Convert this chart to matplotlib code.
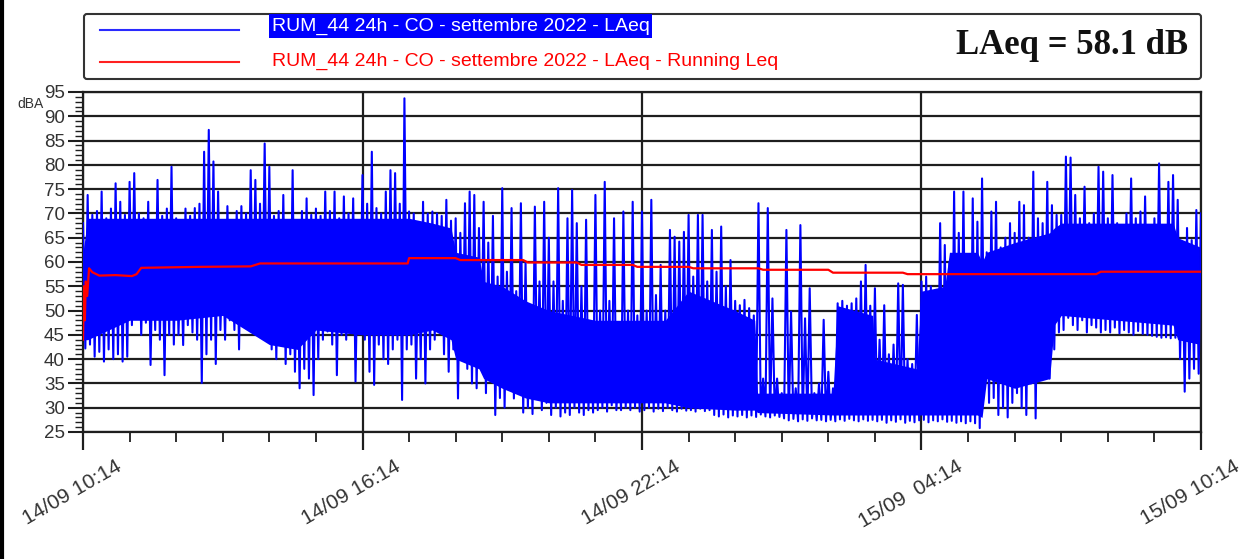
import numpy as np
import matplotlib.pyplot as plt
import matplotlib.transforms as mtransforms
from matplotlib.patches import Rectangle, FancyBboxPatch

plt.rcParams['font.family'] = ['Liberation Sans', 'DejaVu Sans']

# LAeq trace, one sample every 6 min from 14/09 10:14 (hours 0..24)
# laeq_hi = top of the trace in each sample, laeq_lo = bottom of the trace
laeq_hi = [
    68, 73.8, 69.7, 70.5, 74.5, 69, 71, 76.2, 72.4, 69.7,
    76.5, 78.3, 70, 69, 72.4, 65, 76.9, 69.5, 71, 79.6,
    69, 63.5, 71, 69.5, 71.1, 72, 82.7, 87.2, 80.7, 74.5,
    63.5, 71.5, 62, 70.5, 71.5, 70, 78.9, 76.9, 72, 84.4,
    79.6, 69.5, 70.5, 73.8, 68.5, 78.9, 64.9, 70.5, 73.1, 69.7,
    71, 69.5, 74.5, 70.5, 74.5, 69, 73.5, 70, 73.1, 63.5,
    77.9, 72, 82.7, 71.1, 70, 74.5, 78.9, 78.3, 72, 93.7,
    70.4, 70, 62.8, 72.4, 70, 70.4, 70, 69.5, 72.8, 68.5,
    69, 66, 72.1, 74.5, 73.8, 67, 72.4, 64, 69.5, 57,
    75.2, 58, 71.1, 54, 72.1, 60, 51, 71.4, 56, 72.4,
    65, 56, 75.2, 52, 69, 74.8, 68, 55, 68.7, 45,
    73.8, 50, 76.5, 52, 69, 40, 70.4, 50, 72.4, 49,
    70.4, 50, 72.8, 53.2, 59.4, 50, 66.6, 65.2, 64.2, 66.2,
    69.7, 57, 69.7, 69.7, 56, 66.6, 58, 67.3, 55, 60.4,
    52, 51.1, 52.2, 50.5, 49, 72.1, 36, 71.1, 52.5, 36,
    33, 66.6, 49.8, 34, 67.6, 48.4, 54.6, 33, 35, 48.1,
    37.4, 34, 51.5, 52, 51, 51.5, 52.5, 56, 59.4, 51,
    54.6, 44, 51.1, 41, 43, 55.6, 55.3, 40, 39, 49.1,
    56, 57, 55, 54, 68, 63.5, 60, 74.5, 66, 74.5,
    60, 73.1, 68.3, 77.2, 62, 70.4, 72.4, 63, 65, 68,
    66, 72.4, 71.7, 65, 78.6, 69, 68, 76.5, 71.7, 69.7,
    69.7, 81.7, 81.5, 73.8, 69, 75.5, 68, 70, 79.6, 78.6,
    69, 77.9, 68, 64.9, 70, 77.2, 69, 70.4, 73.5, 65,
    69, 80.3, 67, 76.5, 77.9, 72.8, 64, 67, 64.5, 70.7,
    70]
laeq_lo = [
    42.2, 43, 40.5, 41.5, 39.5, 42, 40, 41, 39.5, 40.5,
    47, 48.5, 45, 47.5, 38.8, 46, 44, 36.7, 45, 43,
    45, 42.9, 47, 45.5, 44, 35.1, 41, 44, 39, 46,
    44, 48, 46, 42, 47, 48, 46.5, 45.5, 48, 45,
    42, 40, 43, 39, 41, 37.4, 34, 38, 36, 32.6,
    40, 44, 45.7, 43, 36.7, 45, 44, 48, 35.4, 46,
    44, 37.4, 34.7, 43, 40, 39, 42, 44, 31.6, 42,
    43, 36, 40, 35, 42, 44, 47, 41, 37.4, 42,
    31.9, 40, 38, 35, 34, 38, 33, 36, 28.5, 32,
    30, 34, 31.9, 33, 29, 30, 28.7, 34, 29.5, 31,
    28.5, 30, 28.2, 29, 28.5, 30, 29, 28.5, 29.5, 29,
    29.5, 30, 29.2, 30.5, 29.5, 29.5, 30, 29.5, 30, 29.2,
    29.5, 30, 29.2, 29.8, 29.3, 30, 29.5, 29.2, 29.8, 29.4,
    29.5, 29.2, 29.8, 29.3, 29.5, 28.5, 28.2, 28.6, 28.0, 28.4,
    28.2, 28.5, 28.0, 28.4, 28.1, 28.6, 28.2, 28.0, 28.4, 28.1,
    27.8, 27.4, 27.7, 27.2, 27.6, 27.3, 27.8, 27.4, 27.5, 27.2,
    27.5, 27.2, 27.6, 27.3, 27.7, 27.4, 27.2, 27.6, 27.3, 27.5,
    27.2, 27.5, 26.9, 27.4, 27.1, 27.6, 26.9, 27.3, 27.0, 27.4,
    27.5, 27.0, 27.4, 27.2, 27.6, 27.1, 27.3, 26.9, 27.2, 26.8,
    27.2, 26.8, 25.8, 34, 31, 32, 28.5, 30, 28, 31,
    33, 30, 28.5, 35, 27.8, 38, 40, 36, 42, 45.5,
    46, 48.5, 47, 46, 48, 45.5, 47, 46.5, 45.5, 46,
    45.5, 46.5, 45.3, 46, 45.5, 45, 45.8, 45.2, 45, 44.8,
    44.6, 44.4, 44.5, 44.3, 44.4, 40, 33.3, 36, 38, 37,
    41]

# solid core of the trace (where the blue is continuous)
core_t = [0, 0.1, 1, 2, 3, 4, 4.6, 5, 6, 7,
          7.5, 7.9, 8.0, 8.5, 8.6, 9, 9.5, 10, 11, 12,
          12.5, 13, 14, 14.42, 14.48, 16.1, 16.2, 16.95, 17.0, 17.9,
          18.0, 18.5, 18.6, 19.2, 19.3, 19.4, 20, 20.75, 20.85, 21,
          23.4, 23.5, 24]
core_lo = [44, 44, 48, 48, 49, 43, 42, 46, 45, 45,
           46, 44, 40, 38, 36, 34, 32, 31, 31, 31,
           31, 30, 29.5, 29.5, 29, 28.5, 28.5, 28.5, 28.5, 28.5,
           28.5, 28.5, 28.5, 28.5, 28, 36, 34, 36, 47, 49,
           47, 44, 43]
core_hi = [62, 69, 69, 69, 69, 69, 69, 69, 69, 69,
           68, 67, 62, 61, 56, 55, 52, 50, 48, 48,
           48, 54, 50, 48, 33, 33, 51, 49, 40, 38,
           54, 55, 62, 62, 60, 62, 64, 66, 67, 68,
           68, 65, 63]

# running Leq
leq_t = [0, 0.02, 0.04, 0.06, 0.09, 0.13, 0.2, 0.35, 0.7, 1.05,
         1.15, 1.25, 2.5, 3.6, 3.8, 6.97, 7.0, 8.0, 8.1, 9.45,
         9.55, 10.6, 10.7, 11.8, 11.9, 13.0, 13.1, 14.5, 14.6, 16.0,
         16.1, 17.6, 17.7, 21.75, 21.85, 24]
leq_v = [44, 55, 48, 56, 53, 58.7, 57.9, 57.2, 57.3, 57.1,
         57.5, 58.8, 59.0, 59.1, 59.7, 59.7, 60.8, 60.8, 60.4, 60.4,
         59.9, 59.9, 59.4, 59.4, 59.0, 59.0, 58.7, 58.7, 58.4, 58.4,
         57.8, 57.8, 57.5, 57.5, 58.0, 58.0]

xtick_hours = [0, 6, 12, 18, 24]
xtick_labels = ["14/09 10:14", "14/09 16:14", "14/09 22:14", "15/09  04:14", "15/09 10:14"]
label_laeq = "RUM_44 24h - CO - settembre 2022 - LAeq"
label_leq = "RUM_44 24h - CO - settembre 2022 - LAeq - Running Leq"
total_laeq = 58.1

W, H = 1253, 559
fig = plt.figure(figsize=(W / 100, H / 100), dpi=100)
ax = fig.add_axes([83 / W, 1 - 432 / H, 1118 / W, 340 / H])

# zigzag between top and bottom of each sample
t = np.arange(len(laeq_hi)) * 0.1
tz = np.column_stack([t, t + 0.05]).ravel()[:-1]
yz = np.column_stack([laeq_hi, laeq_lo]).ravel()[:-1]

ax.fill_between(core_t, core_lo, core_hi, color='#0000ff', lw=0, zorder=2)
ax.plot(tz, yz, color='#0000ff', lw=1.5, zorder=3)
ax.plot(leq_t, leq_v, color='#ff0000', lw=1.6, zorder=4)

ax.set_xlim(0, 24)
ax.set_ylim(25, 95)
ax.set_axisbelow(True)
ax.grid(True, which='major', color='#1e1e1e', lw=1.6)
for s in ax.spines.values():
    s.set_color('#1e1e1e')
    s.set_linewidth(1.6)

ax.set_xticks(xtick_hours)
ax.set_xticklabels(xtick_labels, rotation=30, ha='center', fontsize=15, color='#333333')
ax.set_xticks(range(25), minor=True)
ax.tick_params(axis='x', which='major', length=13, width=1.6, pad=5, color='#1e1e1e')
ax.tick_params(axis='x', which='minor', length=7, width=1.3, color='#1e1e1e')
offset = mtransforms.ScaledTranslation(-11 / 100, 0, fig.dpi_scale_trans)
for lab in ax.get_xticklabels():
    lab.set_transform(lab.get_transform() + offset)

ax.set_yticks(range(25, 96, 5))
ax.set_yticks(range(25, 96), minor=True)
ax.tick_params(axis='y', which='major', length=11, width=1.5, pad=2,
               labelsize=13.5, labelcolor='#333333', color='#1e1e1e')
ax.tick_params(axis='y', which='minor', length=6, width=1, color='#1e1e1e')

# legend box and annotations in pixel coordinates
ov = fig.add_axes([0, 0, 1, 1], zorder=5)
ov.set_xlim(0, W)
ov.set_ylim(H, 0)
ov.axis('off')
ov.add_patch(FancyBboxPatch((84, 14), 1117, 65, boxstyle='round,pad=0,rounding_size=3',
                            fc='white', ec='#333333', lw=1.5))
ov.plot([100, 239], [30, 30], color='#2a2aff', lw=1.5)
ov.plot([100, 239], [62, 62], color='#ff2020', lw=1.5)
ov.add_patch(Rectangle((269, 14), 383, 24, fc='#0000ff', ec='none'))
ov.text(272, 26, label_laeq, color='white', fontsize=14, va='center')
ov.text(272, 61, label_leq, color='#ff0000', fontsize=14, va='center')
ov.text(1188, 46, f'LAeq = {total_laeq} dB', ha='right', va='center',
        family='Liberation Serif', weight='bold', fontsize=25, color='#111111')
ov.text(30, 104, 'dBA', ha='center', va='center', fontsize=10, color='#333333')
ov.plot([1.5, 1.5], [0, H], color='black', lw=3)

fig.savefig('out.png', dpi=100)
